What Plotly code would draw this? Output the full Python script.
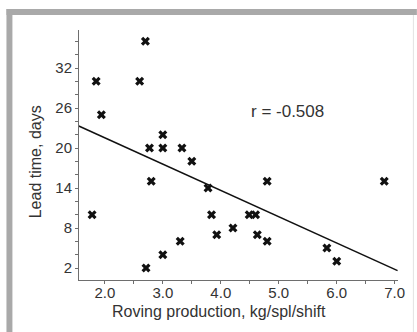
import plotly.graph_objects as go

# ---- data ----
roving_production = [1.78, 1.85, 1.94, 2.60, 2.70, 2.71, 2.77, 2.80, 3.00, 3.00,
                     3.00, 3.33, 3.30, 3.50, 3.78, 3.84, 3.93, 4.21, 4.49, 4.60,
                     4.63, 4.80, 4.80, 5.83, 6.00, 6.82]
lead_time = [10, 30, 25, 30, 36, 2, 20, 15, 22, 20,
             4, 20, 6, 18, 14, 10, 7, 8, 10, 10,
             7, 15, 6, 5, 3, 15]
fit_x = [1.55, 7.05]
fit_y = [23.3, 1.6]
x_tick_vals = [2, 3, 4, 5, 6, 7]
x_tick_text = ["2.0", "3.0", "4.0", "5.0", "6.0", "7.0"]
y_tick_vals = [2, 8, 14, 20, 26, 32]
r_label = "r = -0.508"
x_title = "Roving production, kg/spl/shift"
y_title = "Lead time, days"

# ---- layout geometry (pixels) ----
W, H = 417, 332
L, R, T, B = 79, 400, 30, 280


def px(x):
    return (x - L) / (R - L)


def py(y):
    return (B - y) / (B - T)


FONT = "Liberation Sans, Arial, sans-serif"
AXC = "#6e6e6e"
TXT = "#333333"

fig = go.Figure()
fig.add_trace(go.Scatter(
    x=fit_x, y=fit_y, mode="lines",
    line=dict(color="#111111", width=1.5), showlegend=False, hoverinfo="skip"))
fig.add_trace(go.Scatter(
    x=roving_production, y=lead_time, mode="markers",
    marker=dict(symbol="x", size=8, color="#111111", line=dict(width=0)),
    showlegend=False))

fig.update_layout(
    width=W, height=H,
    margin=dict(l=L, r=W - R, t=T, b=H - B),
    paper_bgcolor="white", plot_bgcolor="white",
    font=dict(family=FONT, color=TXT),
    xaxis=dict(range=[1.554, 7.057], showgrid=False, zeroline=False,
               showline=True, linecolor=AXC, linewidth=1,
               tickmode="array", tickvals=x_tick_vals, ticktext=x_tick_text,
               ticks="outside", ticklen=3, tickcolor=AXC, ticklabelstandoff=-4,
               minor=dict(dtick=0.5, tick0=0, ticks="outside", ticklen=3, tickcolor=AXC),
               tickfont=dict(size=15, color=TXT, family=FONT)),
    yaxis=dict(range=[0.2, 37.7], showgrid=False, zeroline=False,
               showline=True, linecolor=AXC, linewidth=1,
               tickmode="array", tickvals=y_tick_vals,
               ticks="outside", ticklen=3, tickcolor=AXC,
               minor=dict(dtick=2, tick0=0, ticks="outside", ticklen=3, tickcolor=AXC),
               tickfont=dict(size=15, color=TXT, family=FONT)),
    annotations=[
        dict(text=r_label, x=px(289), y=py(112), xref="paper", yref="paper",
             showarrow=False, xanchor="center", yanchor="middle",
             font=dict(size=17, color=TXT, family=FONT)),
        dict(text=x_title, x=px(220), y=py(311), xref="paper", yref="paper",
             showarrow=False, xanchor="center", yanchor="middle",
             font=dict(size=16, color=TXT, family=FONT)),
        dict(text=y_title, x=px(35), y=py(162), xref="paper", yref="paper",
             showarrow=False, xanchor="center", yanchor="middle", textangle=-90,
             font=dict(size=16, color=TXT, family=FONT)),
    ],
    shapes=[
        dict(type="rect", xref="paper", yref="paper", x0=px(6), x1=px(W + 2),
             y0=py(15), y1=py(9), fillcolor="#a9a9a9", line=dict(width=0), layer="above"),
        dict(type="rect", xref="paper", yref="paper", x0=px(6), x1=px(12),
             y0=py(H + 2), y1=py(9), fillcolor="#a9a9a9", line=dict(width=0), layer="above"),
        dict(type="line", xref="paper", yref="paper", x0=px(415.5), x1=px(415.5),
             y0=py(15), y1=py(H + 2), line=dict(color="#e2e2e2", width=1), layer="above"),
    ],
)

fig.write_html("out.html")
